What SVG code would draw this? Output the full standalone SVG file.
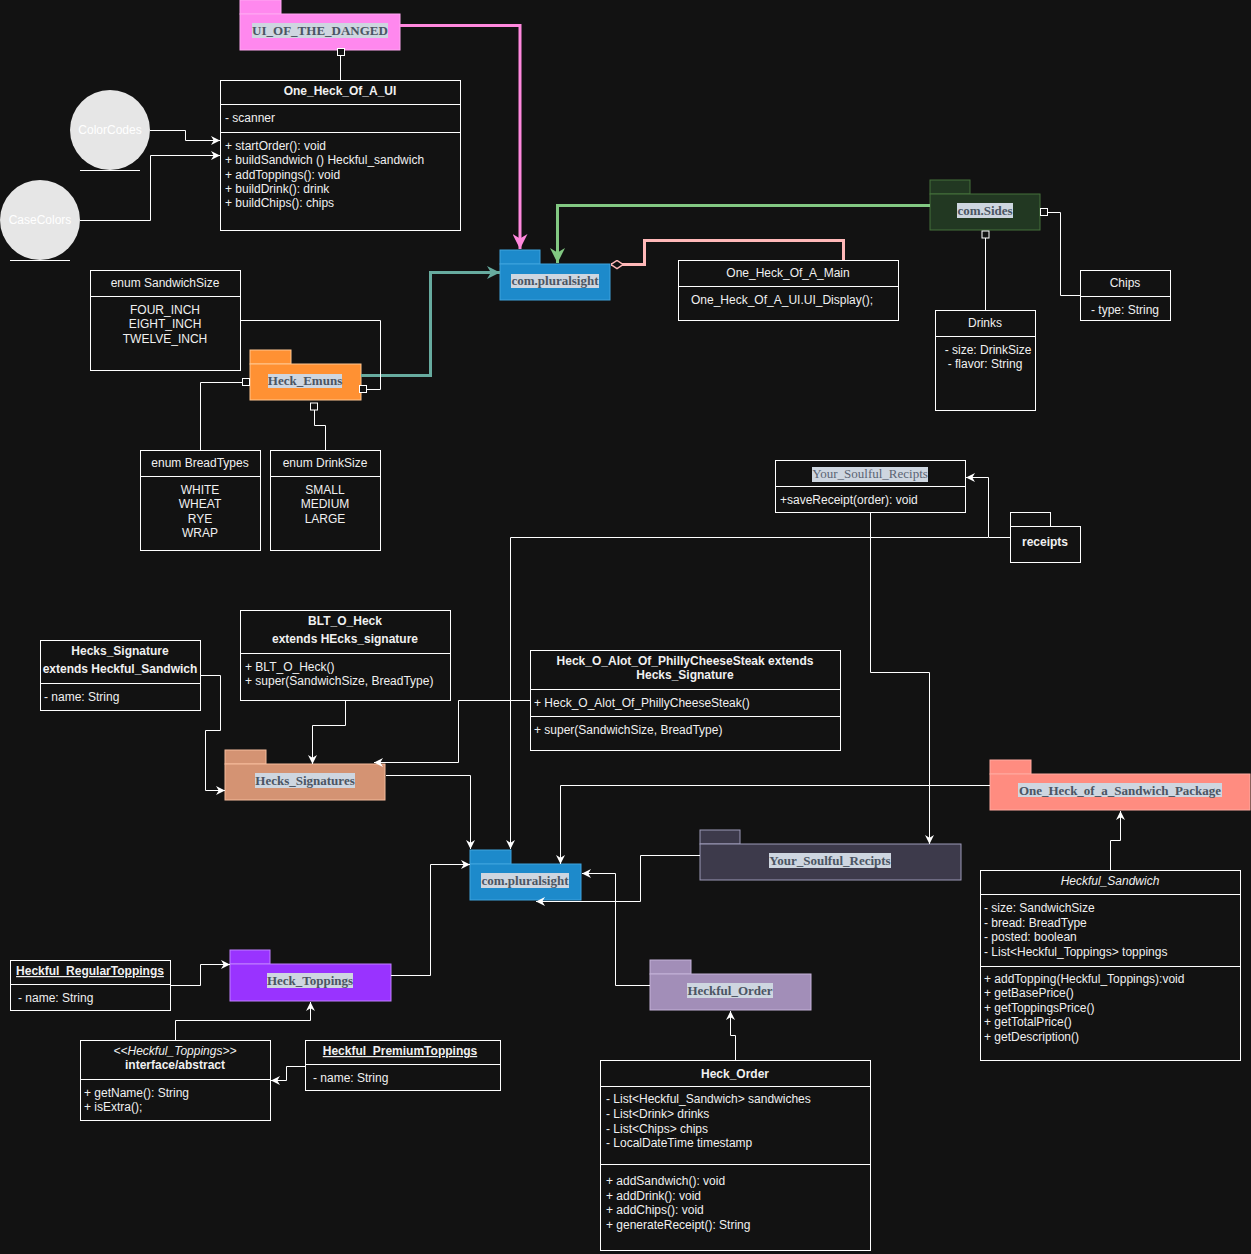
<svg xmlns="http://www.w3.org/2000/svg" width="1251" height="1254" viewBox="0 0 1251 1254">
<style>
.cls{fill:#121212;stroke:#FFFFFF;stroke-width:1}
.t{font-family:"Liberation Sans",Arial,sans-serif;font-size:12px;fill:#F0F0F0}
.b{font-weight:bold}
.i{font-style:italic}
.m{text-anchor:middle}
.u{text-decoration:underline}
.pk{font-family:"Liberation Serif","Times New Roman",serif;font-size:13px;font-weight:bold;fill:#4B5563;text-anchor:middle}
.pkr{font-family:"Liberation Serif","Times New Roman",serif;font-size:13px;fill:#5B6473;text-anchor:middle}
.hl{fill:#CED6E0}
.ln{fill:none;stroke:#FFFFFF;stroke-width:1}
.sq{fill:#121212;stroke:#FFFFFF;stroke-width:1}
</style>
<defs>
<marker id="aw" viewBox="0 0 10 10" refX="10" refY="5" markerWidth="9" markerHeight="9" markerUnits="userSpaceOnUse" orient="auto"><path d="M0,0 L10,5 L0,10 L3,5 Z" fill="#FFFFFF"/></marker>
<marker id="ap" viewBox="0 0 10 10" refX="10" refY="5" markerWidth="15" markerHeight="15" markerUnits="userSpaceOnUse" orient="auto"><path d="M0,0 L10,5 L0,10 L3,5 Z" fill="#FF88DD"/></marker>
<marker id="ag" viewBox="0 0 10 10" refX="10" refY="5" markerWidth="15" markerHeight="15" markerUnits="userSpaceOnUse" orient="auto"><path d="M0,0 L10,5 L0,10 L3,5 Z" fill="#82C882"/></marker>
<marker id="at" viewBox="0 0 10 10" refX="10" refY="5" markerWidth="13" markerHeight="13" markerUnits="userSpaceOnUse" orient="auto"><path d="M0,0 L10,5 L0,10 L3,5 Z" fill="#67AB9F"/></marker>
<marker id="dm" viewBox="0 0 12 10" refX="12" refY="5" markerWidth="12" markerHeight="10" markerUnits="userSpaceOnUse" orient="auto"><path d="M0,5 L6,1 L12,5 L6,9 Z" fill="#121212" stroke="#FFB8B8" stroke-width="1.5"/></marker>
</defs>
<rect x="0" y="0" width="1251" height="1254" fill="#121212"/>

<g id="pkg-ui">
<rect x="240" y="0" width="41" height="14" fill="#FF88EE" stroke="#FFA8F2"/>
<rect x="240" y="14" width="160" height="36" fill="#FF88EE" stroke="#FFA8F2"/>
<rect class="hl" x="252" y="23" width="136" height="15"/>
<text class="pk" x="320" y="35">UI_OF_THE_DANGED</text>
</g>

<g id="cls-ui">
<rect class="cls" x="220.5" y="80.5" width="240" height="150"/>
<line class="ln" x1="220.5" y1="104.5" x2="460.5" y2="104.5"/>
<line class="ln" x1="220.5" y1="132.5" x2="460.5" y2="132.5"/>
<text class="t b m" x="340" y="95">One_Heck_Of_A_UI</text>
<text class="t" x="225" y="122">- scanner</text>
<text class="t" x="225" y="150">+ startOrder(): void</text>
<text class="t" x="225" y="164">+ buildSandwich () Heckful_sandwich</text>
<text class="t" x="225" y="179">+ addToppings(): void</text>
<text class="t" x="225" y="193">+ buildDrink(): drink</text>
<text class="t" x="225" y="207">+ buildChips(): chips</text>
</g>

<g id="colorcodes">
<circle cx="110" cy="130" r="40" fill="#E6E6E6"/>
<line class="ln" x1="80" y1="170.5" x2="140" y2="170.5"/>
<text class="t m" x="110" y="134" style="fill:#FFFFFF">ColorCodes</text>
</g>
<g id="casecolors">
<circle cx="40" cy="220" r="40" fill="#E6E6E6"/>
<line class="ln" x1="10" y1="260.5" x2="70" y2="260.5"/>
<text class="t m" x="40" y="224" style="fill:#FFFFFF">CaseColors</text>
</g>

<g id="pkg-plural-top">
<rect x="500" y="250" width="40" height="14" fill="#1D8ACB" stroke="#3FA3DE"/>
<rect x="500" y="264" width="110" height="36" fill="#1D8ACB" stroke="#3FA3DE"/>
<rect class="hl" x="511" y="274" width="88" height="14"/>
<text class="pk" x="555" y="285">com.pluralsight</text>
</g>

<g id="cls-main">
<rect class="cls" x="678.5" y="260.5" width="220" height="60"/>
<line class="ln" x1="678.5" y1="286.5" x2="898.5" y2="286.5"/>
<text class="t m" x="788" y="277">One_Heck_Of_A_Main</text>
<text class="t" x="691" y="304">One_Heck_Of_A_UI.UI_Display();</text>
</g>

<g id="pkg-sides">
<rect x="930" y="180" width="40" height="14" fill="#223822" stroke="#44703A"/>
<rect x="930" y="194" width="110" height="36" fill="#223822" stroke="#44703A"/>
<rect class="hl" x="957" y="203" width="56" height="15"/>
<text class="pk" x="985" y="215">com.Sides</text>
</g>

<g id="cls-chips">
<rect class="cls" x="1080.5" y="270.5" width="90" height="50"/>
<line class="ln" x1="1080.5" y1="296.5" x2="1170.5" y2="296.5"/>
<text class="t m" x="1125" y="287">Chips</text>
<text class="t m" x="1125" y="314">- type: String</text>
</g>

<g id="cls-drinks">
<rect class="cls" x="935.5" y="310.5" width="100" height="100"/>
<line class="ln" x1="935.5" y1="336.5" x2="1035.5" y2="336.5"/>
<text class="t m" x="985" y="327">Drinks</text>
<text class="t m" x="988" y="354">- size: DrinkSize</text>
<text class="t m" x="985" y="368">- flavor: String</text>
</g>

<g id="enum-sandwichsize">
<rect class="cls" x="90.5" y="270.5" width="150" height="100"/>
<line class="ln" x1="90.5" y1="296.5" x2="240.5" y2="296.5"/>
<text class="t m" x="165" y="287">enum SandwichSize</text>
<text class="t m" x="165" y="314">FOUR_INCH</text>
<text class="t m" x="165" y="328">EIGHT_INCH</text>
<text class="t m" x="165" y="343">TWELVE_INCH</text>
</g>

<g id="pkg-emuns">
<rect x="250" y="350" width="41" height="14" fill="#FF9133" stroke="#FFC690"/>
<rect x="250" y="364" width="111" height="36" fill="#FF9133" stroke="#FFC690"/>
<rect class="hl" x="268" y="374" width="74" height="14"/>
<text class="pk" x="305" y="385">Heck_Emuns</text>
</g>

<g id="enum-breadtypes">
<rect class="cls" x="140.5" y="450.5" width="120" height="100"/>
<line class="ln" x1="140.5" y1="476.5" x2="260.5" y2="476.5"/>
<text class="t m" x="200" y="467">enum BreadTypes</text>
<text class="t m" x="200" y="494">WHITE</text>
<text class="t m" x="200" y="508">WHEAT</text>
<text class="t m" x="200" y="523">RYE</text>
<text class="t m" x="200" y="537">WRAP</text>
</g>

<g id="enum-drinksize">
<rect class="cls" x="270.5" y="450.5" width="110" height="100"/>
<line class="ln" x1="270.5" y1="476.5" x2="380.5" y2="476.5"/>
<text class="t m" x="325" y="467">enum DrinkSize</text>
<text class="t m" x="325" y="494">SMALL</text>
<text class="t m" x="325" y="508">MEDIUM</text>
<text class="t m" x="325" y="523">LARGE</text>
</g>

<g id="cls-recipts">
<rect class="cls" x="775.5" y="460.5" width="190" height="52"/>
<line class="ln" x1="775.5" y1="486.5" x2="965.5" y2="486.5"/>
<rect class="hl" x="812" y="467" width="116" height="15"/>
<text class="pkr" x="870" y="478">Your_Soulful_Recipts</text>
<text class="t" x="780" y="504">+saveReceipt(order): void</text>
</g>

<g id="pkg-receipts">
<rect class="cls" x="1010.5" y="512.5" width="40" height="14"/>
<rect class="cls" x="1010.5" y="526.5" width="70" height="36"/>
<text class="t b m" x="1045" y="546">receipts</text>
</g>

<g id="cls-hecks-signature">
<rect class="cls" x="40.5" y="640.5" width="160" height="70"/>
<line class="ln" x1="40.5" y1="683.5" x2="200.5" y2="683.5"/>
<text class="t b m" x="120" y="655">Hecks_Signature</text>
<text class="t b m" x="120" y="673">extends Heckful_Sandwich</text>
<text class="t" x="44" y="701">- name: String</text>
</g>

<g id="cls-blt">
<rect class="cls" x="240.5" y="610.5" width="210" height="90"/>
<line class="ln" x1="240.5" y1="653.5" x2="450.5" y2="653.5"/>
<text class="t b m" x="345" y="625">BLT_O_Heck</text>
<text class="t b m" x="345" y="643">extends HEcks_signature</text>
<text class="t" x="245" y="671">+ BLT_O_Heck()</text>
<text class="t" x="245" y="685">+ super(SandwichSize, BreadType)</text>
</g>

<g id="cls-philly">
<rect class="cls" x="530.5" y="650.5" width="310" height="100"/>
<line class="ln" x1="530.5" y1="689.5" x2="840.5" y2="689.5"/>
<line class="ln" x1="530.5" y1="716.5" x2="840.5" y2="716.5"/>
<text class="t b m" x="685" y="665">Heck_O_Alot_Of_PhillyCheeseSteak extends</text>
<text class="t b m" x="685" y="679">Hecks_Signature</text>
<text class="t" x="534" y="707">+ Heck_O_Alot_Of_PhillyCheeseSteak()</text>
<text class="t" x="534" y="734">+ super(SandwichSize, BreadType)</text>
</g>

<g id="pkg-signatures">
<rect x="225" y="750" width="41" height="14" fill="#D49373" stroke="#F5BB9C"/>
<rect x="225" y="764" width="160" height="36" fill="#D49373" stroke="#F5BB9C"/>
<rect class="hl" x="255" y="773" width="100" height="15"/>
<text class="pk" x="305" y="785">Hecks_Signatures</text>
</g>

<g id="pkg-sandwich-package">
<rect x="990" y="760" width="41" height="14" fill="#FF8C80" stroke="#FFAAA0"/>
<rect x="990" y="774" width="260" height="36" fill="#FF8C80" stroke="#FFAAA0"/>
<rect class="hl" x="1018" y="783" width="204" height="14"/>
<text class="pk" x="1120" y="795">One_Heck_of_a_Sandwich_Package</text>
</g>

<g id="pkg-recipts">
<rect x="700" y="830" width="40" height="14" fill="#3D3A4B" stroke="#9C99B8"/>
<rect x="700" y="844" width="261" height="36" fill="#3D3A4B" stroke="#9C99B8"/>
<rect class="hl" x="769" y="853" width="122" height="15"/>
<text class="pk" x="830" y="865">Your_Soulful_Recipts</text>
</g>

<g id="pkg-plural-bottom">
<rect x="470" y="850" width="41" height="14" fill="#1D8ACB" stroke="#3FA3DE"/>
<rect x="470" y="864" width="111" height="36" fill="#1D8ACB" stroke="#3FA3DE"/>
<rect class="hl" x="481" y="873" width="88" height="15"/>
<text class="pk" x="525" y="885">com.pluralsight</text>
</g>

<g id="cls-heckful-sandwich">
<rect class="cls" x="980.5" y="870.5" width="260" height="190"/>
<line class="ln" x1="980.5" y1="894.5" x2="1240.5" y2="894.5"/>
<line class="ln" x1="980.5" y1="966.5" x2="1240.5" y2="966.5"/>
<text class="t i m" x="1110" y="885">Heckful_Sandwich</text>
<text class="t" x="984" y="912">- size: SandwichSize</text>
<text class="t" x="984" y="927">- bread: BreadType</text>
<text class="t" x="984" y="941">- posted: boolean</text>
<text class="t" x="984" y="956">- List&lt;Heckful_Toppings&gt; toppings</text>
<text class="t" x="984" y="983">+ addTopping(Heckful_Toppings):void</text>
<text class="t" x="984" y="997">+ getBasePrice()</text>
<text class="t" x="984" y="1012">+ getToppingsPrice()</text>
<text class="t" x="984" y="1026">+ getTotalPrice()</text>
<text class="t" x="984" y="1041">+ getDescription()</text>
</g>

<g id="pkg-heckful-order">
<rect x="650" y="960" width="41" height="14" fill="#A28EB8" stroke="#C4B2D8"/>
<rect x="650" y="974" width="161" height="36" fill="#A28EB8" stroke="#C4B2D8"/>
<rect class="hl" x="687" y="983" width="86" height="15"/>
<text class="pk" x="730" y="995">Heckful_Order</text>
</g>

<g id="cls-heck-order">
<rect class="cls" x="600.5" y="1060.5" width="270" height="190"/>
<line class="ln" x1="600.5" y1="1086.5" x2="870.5" y2="1086.5"/>
<line class="ln" x1="600.5" y1="1164.5" x2="870.5" y2="1164.5"/>
<text class="t b m" x="735" y="1078">Heck_Order</text>
<text class="t" x="606" y="1103">- List&lt;Heckful_Sandwich&gt; sandwiches</text>
<text class="t" x="606" y="1118">- List&lt;Drink&gt; drinks</text>
<text class="t" x="606" y="1133">- List&lt;Chips&gt; chips</text>
<text class="t" x="606" y="1147">- LocalDateTime timestamp</text>
<text class="t" x="606" y="1185">+ addSandwich(): void</text>
<text class="t" x="606" y="1200">+ addDrink(): void</text>
<text class="t" x="606" y="1214">+ addChips(): void</text>
<text class="t" x="606" y="1229">+ generateReceipt(): String</text>
</g>

<g id="pkg-toppings">
<rect x="230" y="950" width="40" height="14" fill="#9933FF" stroke="#C080FF"/>
<rect x="230" y="964" width="161" height="37" fill="#9933FF" stroke="#C080FF"/>
<rect class="hl" x="267" y="973" width="86" height="15"/>
<text class="pk" x="310" y="985">Heck_Toppings</text>
</g>

<g id="cls-regular">
<rect class="cls" x="10.5" y="960.5" width="160" height="50"/>
<line class="ln" x1="10.5" y1="984.5" x2="170.5" y2="984.5"/>
<text class="t b m u" x="90" y="975">Heckful_RegularToppings</text>
<text class="t" x="18" y="1002">- name: String</text>
</g>

<g id="cls-interface">
<rect class="cls" x="80.5" y="1040.5" width="190" height="80"/>
<line class="ln" x1="80.5" y1="1079.5" x2="270.5" y2="1079.5"/>
<text class="t i m" x="175" y="1055">&lt;&lt;Heckful_Toppings&gt;&gt;</text>
<text class="t b m" x="175" y="1069">interface/abstract</text>
<text class="t" x="84" y="1097">+ getName(): String</text>
<text class="t" x="84" y="1111">+ isExtra();</text>
</g>

<g id="cls-premium">
<rect class="cls" x="305.5" y="1040.5" width="195" height="50"/>
<line class="ln" x1="305.5" y1="1064.5" x2="500.5" y2="1064.5"/>
<text class="t b m u" x="400" y="1055">Heckful_PremiumToppings</text>
<text class="t" x="313" y="1082">- name: String</text>
</g>

<g id="connectors">
<path class="ln" d="M340.5,56 V80"/>
<rect class="sq" x="337.5" y="48.5" width="7" height="7"/>
<path d="M400,25.5 H520 V249" fill="none" stroke="#FF88DD" stroke-width="3" marker-end="url(#ap)"/>
<path class="ln" d="M150,130.5 H185.5 V140.5 H220" marker-end="url(#aw)"/>
<path class="ln" d="M80,220.5 H150.5 V155.5 H220" marker-end="url(#aw)"/>
<path d="M930,205.5 H557.5 V263" fill="none" stroke="#82C882" stroke-width="3" marker-end="url(#ag)"/>
<path d="M843.5,260 V240.5 H644.5 V264.5 H611" fill="none" stroke="#FFB8B8" stroke-width="3" marker-end="url(#dm)"/>
<path class="ln" d="M985.5,238 V310"/>
<rect class="sq" x="982" y="231" width="7" height="7"/>
<path class="ln" d="M1048,212.5 H1060.5 V295.5 H1080"/>
<rect class="sq" x="1040.5" y="208.5" width="7" height="7"/>
<path d="M361,375.5 H430.5 V272.5 H500" fill="none" stroke="#67AB9F" stroke-width="3" marker-end="url(#at)"/>
<path class="ln" d="M240,320.5 H380.5 V389.5 H367"/>
<rect class="sq" x="359.5" y="385.5" width="7" height="7"/>
<path class="ln" d="M242,382.5 H200.5 V450"/>
<rect class="sq" x="242.5" y="378.5" width="7" height="7"/>
<path class="ln" d="M314.5,410 V425.5 H325.5 V450"/>
<rect class="sq" x="310.5" y="403" width="7" height="7"/>
<path class="ln" d="M1010,537.5 H988.5 V477.5 H966" marker-end="url(#aw)"/>
<path class="ln" d="M988,537.5 H510.5 V849" marker-end="url(#aw)"/>
<path class="ln" d="M870.5,512 V672.5 H929.5 V844" marker-end="url(#aw)"/>
<path class="ln" d="M200,675.5 H220.5 V730.5 H205.5 V790.5 H225" marker-end="url(#aw)"/>
<path class="ln" d="M345.5,700 V725.5 H312.5 V764" marker-end="url(#aw)"/>
<path class="ln" d="M530,700.5 H458.5 V762.5 H374" marker-end="url(#aw)"/>
<path class="ln" d="M386,775.5 H470.5 V849" marker-end="url(#aw)"/>
<path class="ln" d="M990,785.5 H560.5 V864" marker-end="url(#aw)"/>
<path class="ln" d="M700,855.5 H640.5 V901.5 H536" marker-end="url(#aw)"/>
<path class="ln" d="M650,985.5 H615.5 V873.5 H582" marker-end="url(#aw)"/>
<path class="ln" d="M391,975.5 H430.5 V864.5 H470" marker-end="url(#aw)"/>
<path class="ln" d="M1110.5,870 V840.5 H1120.5 V811" marker-end="url(#aw)"/>
<path class="ln" d="M735.5,1060 V1035.5 H730.5 V1011" marker-end="url(#aw)"/>
<path class="ln" d="M171,985.5 H200.5 V964.5 H230" marker-end="url(#aw)"/>
<path class="ln" d="M175.5,1040 V1020.5 H310.5 V1002" marker-end="url(#aw)"/>
<path class="ln" d="M305,1066.5 H286.5 V1080.5 H271" marker-end="url(#aw)"/>
</g>
</svg>
